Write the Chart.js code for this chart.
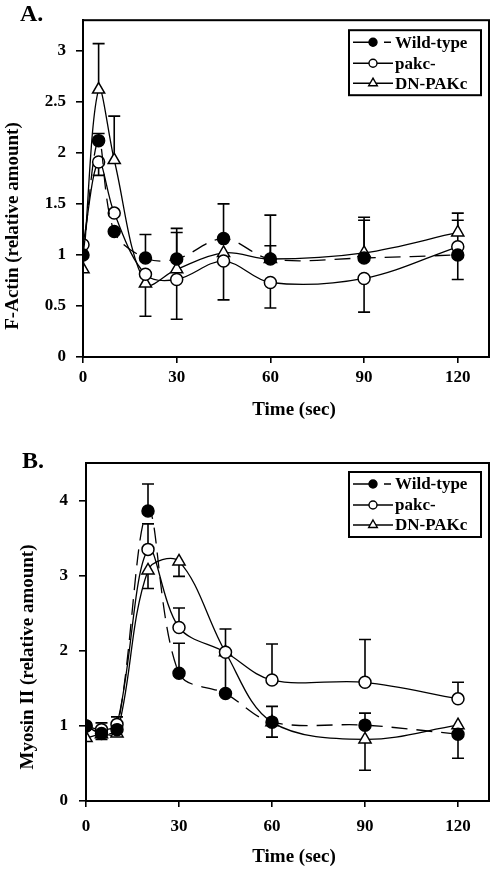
<!DOCTYPE html>
<html><head><meta charset="utf-8">
<script src="https://cdn.jsdelivr.net/npm/chart.js@4.4.1/dist/chart.umd.min.js"></script>
<style>
html,body{margin:0;padding:0;background:#fff;}
#wrap{position:relative;width:500px;height:869px;background:#fff;}
.panel{position:absolute;left:0;width:500px;}
</style></head><body>
<div id="wrap">
<div class="panel" style="top:0;height:435px"><canvas id="cA" width="500" height="435"></canvas></div>
<div class="panel" style="top:435px;height:434px"><canvas id="cB" width="500" height="434"></canvas></div>
</div>
<script>
// ---------- data ----------
const times = [0, 5, 10, 20, 30, 45, 60, 90, 120];
const xTicks = [0, 30, 60, 90, 120];
const seriesNames = ['Wild-type', 'pakc-', 'DN-PAKc'];

// Panel A: F-Actin
const yTicksA = [0, 0.5, 1, 1.5, 2, 2.5, 3];
const actinWT    = [1.00, 2.12, 1.23, 0.97, 0.96, 1.16, 0.96, 0.97, 1.00];
const actinPakc  = [1.10, 1.91, 1.41, 0.81, 0.76, 0.94, 0.73, 0.77, 1.08];
const actinDN    = [0.86, 2.62, 1.93, 0.72, 0.86, 1.02, 0.96, 1.02, 1.22];
const actinWTHi   = [null, 2.19, null, 1.20, 1.26, 1.50, 1.39, 1.37, null];
const actinWTLo   = [null, null, null, null, null, null, null, null, 0.76];
const actinPakcHi = [null, null, null, null, null, null, null, null, 1.34];
const actinPakcLo = [null, 1.78, null, null, 0.37, 0.56, 0.48, 0.44, null];
const actinDNHi   = [null, 3.07, 2.36, null, 1.22, null, 1.09, 1.34, 1.41];
const actinDNLo   = [null, null, null, 0.40, null, null, null, null, null];

// Panel B: Myosin II
const yTicksB = [0, 1, 2, 3, 4];
const myoWT    = [1.00, 0.90, 0.95, 3.86, 1.70, 1.43, 1.05, 1.01, 0.89];
const myoPakc  = [1.00, 0.95, 1.02, 3.35, 2.31, 1.98, 1.61, 1.58, 1.36];
const myoDN    = [0.84, 0.89, 0.90, 3.07, 3.19, 1.98, 1.05, 0.82, 1.01];
const myoWTHi   = [null, null, null, 4.22, 2.10, null, 1.26, 1.17, null];
const myoWTLo   = [null, null, null, null, null, null, null, null, 0.57];
const myoPakcHi = [null, 1.04, 1.12, 3.69, 2.57, null, 2.09, 2.15, 1.58];
const myoPakcLo = [null, null, null, null, null, null, null, null, null];
const myoDNHi   = [null, null, null, null, null, 2.29, null, null, null];
const myoDNLo   = [null, 0.82, null, 2.83, 2.99, 1.45, 0.85, 0.41, null];

// ---------- helpers ----------
const FONT = "'Liberation Serif', 'Times New Roman', serif";
Chart.defaults.font.family = FONT;
Chart.defaults.font.weight = 'bold';
Chart.defaults.color = '#000';

const pts = vals => times.map((t, i) => ({x: t, y: vals[i]}));

const styles = [
  {pointStyle: 'circle', radius: 6, fill: '#000', dash: [16, 9]},
  {pointStyle: 'circle', radius: 6, fill: '#fff', dash: []},
  {pointStyle: 'triangle', radius: 7, fill: '#fff', dash: []}
];

function makeDatasets(vals, his, los) {
  return vals.map((v, k) => ({
    label: seriesNames[k],
    data: pts(v),
    errHi: his[k], errLo: los[k],
    borderColor: '#000', borderWidth: 1.3, borderDash: styles[k].dash,
    tension: 0.35,
    pointStyle: styles[k].pointStyle, pointRadius: styles[k].radius,
    pointBackgroundColor: styles[k].fill, pointBorderColor: '#000', pointBorderWidth: 1.5,
    fill: false
  }));
}

const errorBars = {
  id: 'errorBars',
  beforeDatasetsDraw(chart) {
    const {ctx, scales: {x, y}} = chart;
    ctx.save(); ctx.strokeStyle = '#000'; ctx.lineWidth = 1.6; ctx.setLineDash([]);
    chart.data.datasets.forEach(ds => {
      ['errHi', 'errLo'].forEach(k => {
        const arr = ds[k]; if (!arr) return;
        arr.forEach((e, i) => {
          if (e == null) return;
          const px = x.getPixelForValue(ds.data[i].x);
          const p0 = y.getPixelForValue(ds.data[i].y);
          const p1 = y.getPixelForValue(e);
          ctx.beginPath(); ctx.moveTo(px, p0); ctx.lineTo(px, p1);
          ctx.moveTo(px - 6, p1); ctx.lineTo(px + 6, p1); ctx.stroke();
        });
      });
    });
    ctx.restore();
  }
};

const decor = {
  id: 'decor',
  afterDraw(chart, args, o) {
    const ctx = chart.ctx, ca = chart.chartArea;
    ctx.save();
    ctx.setLineDash([]);
    ctx.strokeStyle = '#000'; ctx.fillStyle = '#000';
    // frame
    ctx.lineWidth = 2;
    ctx.strokeRect(ca.left, ca.top, ca.right - ca.left, ca.bottom - ca.top);
    // panel label
    ctx.font = "bold 24px " + FONT; ctx.textAlign = 'left'; ctx.textBaseline = 'middle';
    ctx.fillText(o.panel, o.panelX, o.panelY);
    // x title
    ctx.font = "bold 19px " + FONT; ctx.textAlign = 'center';
    ctx.fillText(o.xTitle, o.xTitleX, o.xTitleY);
    // y title
    ctx.save(); ctx.translate(o.yTitleX, o.yTitleY); ctx.rotate(-Math.PI / 2);
    ctx.fillText(o.yTitle, 0, 0); ctx.restore();
    // legend
    const w = 132, h = 65, L = ca.right - 8 - w, T = ca.top + o.legendTop;
    ctx.lineWidth = 2; ctx.strokeRect(L, T, w, h);
    const rows = [12, 33, 53];
    ctx.font = "bold 17px " + FONT; ctx.textAlign = 'left';
    chart.data.datasets.forEach((ds, k) => {
      const yy = T + rows[k];
      ctx.lineWidth = 1.4; ctx.strokeStyle = '#000';
      ctx.beginPath();
      if (k === 0) {
        ctx.moveTo(L + 4, yy); ctx.lineTo(L + 24, yy);
        ctx.moveTo(L + 35, yy); ctx.lineTo(L + 42, yy);
      } else {
        ctx.moveTo(L + 4, yy); ctx.lineTo(L + 44, yy);
      }
      ctx.stroke();
      ctx.fillStyle = styles[k].fill; ctx.lineWidth = 1.4;
      Chart.helpers.drawPoint(ctx, {pointStyle: styles[k].pointStyle, radius: k === 2 ? 5 : 4, borderWidth: 1.4, rotation: 0}, L + 24, yy);
      ctx.fillStyle = '#000';
      ctx.fillText(ds.label, L + 46, yy + 1);
    });
    ctx.restore();
  }
};

function makeChart(id, vals, his, los, cfg) {
  return new Chart(document.getElementById(id), {
    type: 'line',
    data: {datasets: makeDatasets(vals, his, los)},
    plugins: [errorBars, decor],
    options: {
      responsive: false, animation: false, devicePixelRatio: 1,
      layout: {padding: {top: cfg.padTop, right: 11, left: 0, bottom: 0}},
      plugins: {
        legend: {display: false}, tooltip: {enabled: false},
        decor: cfg.decor
      },
      scales: {
        x: {
          type: 'linear', min: 0, max: 130,
          afterBuildTicks: s => { s.ticks = xTicks.map(v => ({value: v})); },
          afterFit: s => { s.height = cfg.xHeight; },
          ticks: {color: '#000', font: {size: 17, weight: 'bold'}, padding: cfg.xPad, maxRotation: 0, callback: v => String(v)},
          grid: {drawOnChartArea: false, drawTicks: true, tickLength: 6, color: '#000', lineWidth: 1.6},
          border: {display: true, color: '#000', width: 2}
        },
        y: {
          type: 'linear', min: 0, max: cfg.yMax,
          afterBuildTicks: s => { s.ticks = cfg.yTicks.map(v => ({value: v})); },
          afterFit: s => { s.width = cfg.yWidth; },
          ticks: {color: '#000', font: {size: 17, weight: 'bold'}, padding: cfg.yPad, callback: v => String(v)},
          grid: {drawOnChartArea: false, drawTicks: true, tickLength: 7, color: '#000', lineWidth: 1.6},
          border: {display: true, color: '#000', width: 2}
        }
      }
    }
  });
}

makeChart('cA', [actinWT, actinPakc, actinDN],
  [actinWTHi, actinPakcHi, actinDNHi], [actinWTLo, actinPakcLo, actinDNLo],
  {padTop: 20, xHeight: 78, yWidth: 83, yMax: 3.3, yTicks: yTicksA, xPad: 4, yPad: 10,
   decor: {panel: 'A.', panelX: 20, panelY: 15, xTitle: 'Time (sec)', xTitleX: 294, xTitleY: 410,
           yTitle: 'F-Actin (relative amount)', yTitleX: 13, yTitleY: 226, legendTop: 10}});

makeChart('cB', [myoWT, myoPakc, myoDN],
  [myoWTHi, myoPakcHi, myoDNHi], [myoWTLo, myoPakcLo, myoDNLo],
  {padTop: 28, xHeight: 68, yWidth: 86, yMax: 4.5, yTicks: yTicksB, xPad: 9, yPad: 11,
   decor: {panel: 'B.', panelX: 22, panelY: 27, xTitle: 'Time (sec)', xTitleX: 294, xTitleY: 422,
           yTitle: 'Myosin II (relative amount)', yTitleX: 28, yTitleY: 222, legendTop: 9}});
</script>
</body></html>
